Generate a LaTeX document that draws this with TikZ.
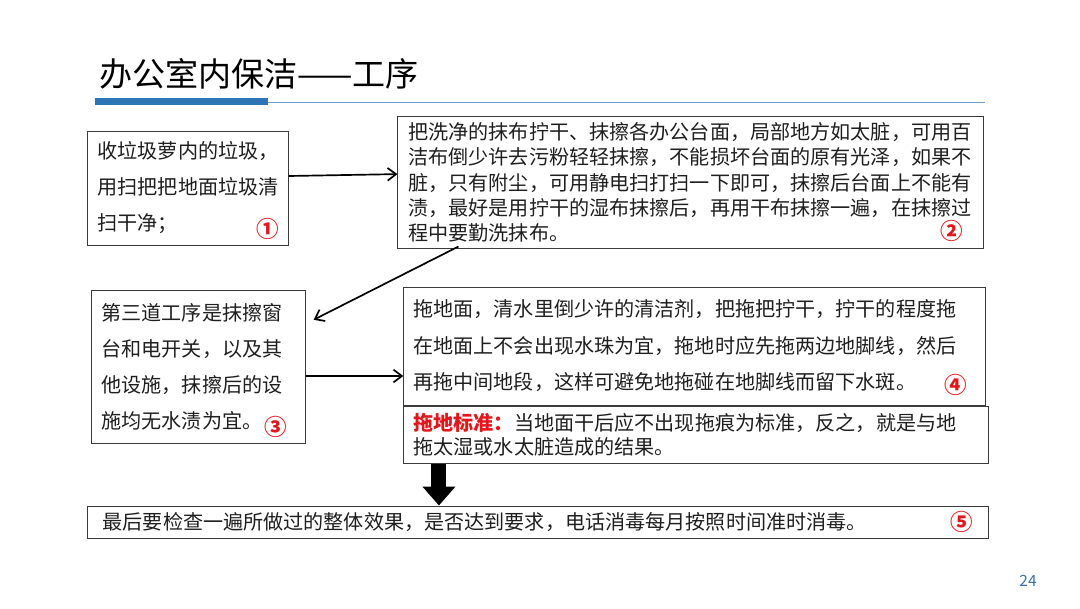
\documentclass[tikz,border=0pt]{standalone}
\usepackage{fontspec}
\setmainfont{Noto Sans CJK SC}
\usepackage{xcolor}
\usetikzlibrary{positioning,arrows.meta,calc}
\definecolor{mBarBlue}{HTML}{2E75B6}
\definecolor{mLineBlue}{HTML}{6A9FD4}
\definecolor{mNumRed}{HTML}{E3161B}
\definecolor{mBoxGray}{HTML}{3A3A3A}
\definecolor{mPageBlue}{HTML}{3C6EA6}

\begin{document}
\begin{tikzpicture}[x=0.025cm, y=-0.025cm,
  stepbox/.style={draw=mBoxGray, line width=0.7pt, inner xsep=0.24cm, inner ysep=0pt, align=left, text=black!88},
  stepnum/.style={text=mNumRed, font=\fontsize{16}{16}\selectfont\bfseries, inner sep=0pt},
  flow/.style={-{Straight Barb[length=6pt,width=9pt]}, line width=1.2pt}]
\fill[white] (0,0) rectangle (1080,608);
\useasboundingbox (0,0) rectangle (1080,608);

% title
\node[anchor=west, font=\fontsize{23.5}{24}\selectfont, inner sep=0pt] (title) at (99,74) {办公室内保洁——工序};
\draw[mLineBlue, line width=1.4pt] (268,102.5) -- (985,102.5);
\fill[mBarBlue] (95,98) rectangle (268,105);

% steps
\node[stepbox, minimum width=5cm, minimum height=2.85cm, text width=4.52cm, font=\fontsize{14.3}{25.6}\selectfont] (clear) at (188,188) {收垃圾萝内的垃圾，\\用扫把把地面垃圾清\\扫干净；};
\node[stepbox, minimum width=14.625cm, minimum height=3.275cm, text width=14.1cm, font=\fontsize{14.3}{18}\selectfont] (wipe) at (690.5,182.5) {把洗净的抹布拧干、抹擦各办公台面，局部地方如太脏，可用百\\洁布倒少许去污粉轻轻抹擦，不能损坏台面的原有光泽，如果不\\脏，只有附尘，可用静电扫打扫一下即可，抹擦后台面上不能有\\渍，最好是用拧干的湿布抹擦后，再用干布抹擦一遍，在抹擦过\\程中要勤洗抹布。};
\node[stepbox, minimum width=5.325cm, minimum height=3.8cm, text width=4.85cm, font=\fontsize{14.3}{25.6}\selectfont] (window) at (198.5,367) {第三道工序是抹擦窗\\台和电开关，以及其\\他设施，抹擦后的设\\施均无水渍为宜。};
\node[stepbox, minimum width=14.525cm, minimum height=2.95cm, text width=14.05cm, font=\fontsize{14.3}{26}\selectfont] (mop) at (694.5,346) {拖地面，清水里倒少许的清洁剂，把拖把拧干，拧干的程度拖\\在地面上不会出现水珠为宜，拖地时应先拖两边地脚线，然后\\再拖中间地段，这样可避免地拖碰在地脚线而留下水斑。};
\node[stepbox, minimum width=14.6cm, minimum height=1.425cm, text width=14.12cm, font=\fontsize{14.3}{17}\selectfont] (standard) at (696,434.5) {{\bfseries\color{mNumRed}拖地标准：}当地面干后应不出现拖痕为标准，反之，就是与地\\拖太湿或水太脏造成的结果。};
\node[stepbox, minimum width=22.5cm, minimum height=0.8cm, inner xsep=0.37cm, text width=21.76cm, font=\fontsize{14.3}{17}\selectfont] (check) at (538,522) {最后要检查一遍所做过的整体效果，是否达到要求，电话消毒每月按照时间准时消毒。};

% numbers
\node[stepnum] (n1) at (268,229) {①};
\node[stepnum] (n2) at (952,231) {②};
\node[stepnum] (n3) at (276,427) {③};
\node[stepnum] (n4) at (956,385) {④};
\node[stepnum] (n5) at (962,522) {⑤};

% arrows
\draw[flow] ([yshift=0.3cm]clear.east) -- ([yshift=0.21cm]wipe.west);
\draw[flow] ([xshift=-5.8cm, yshift=0.05cm]wipe.south) -- ([xshift=0.2cm, yshift=1.18cm]window.east);
\draw[flow] ([yshift=-0.225cm]window.east) -- ([yshift=-0.75cm]mop.west);
\coordinate (drop) at ([xshift=-6.425cm]standard.south);
\draw[line width=0.375cm, -{Triangle[width=0.8cm, length=0.475cm]}] (drop) -- (drop |- check.north);

\node[text=mPageBlue, font=\fontsize{11}{11}\selectfont] (page) at (1028,581) {24};
\end{tikzpicture}
\end{document}
